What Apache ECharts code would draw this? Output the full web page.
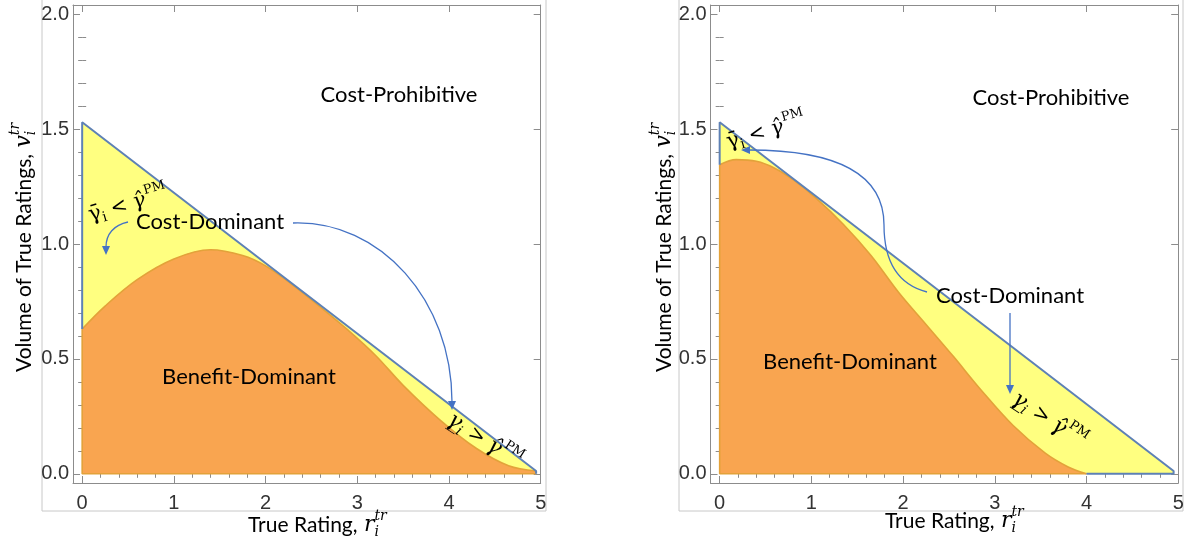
<!DOCTYPE html>
<html>
<head>
<meta charset="utf-8">
<script src="https://cdn.jsdelivr.net/npm/echarts@6/dist/echarts.min.js"></script>
<style>
  html, body { margin: 0; padding: 0; background: #fff; }
  #chart { width: 1193px; height: 546px; }
</style>
</head>
<body>
<div id="chart"></div>
<script>
// ---- axis ticks ----
const ratingTicks = [0, 1, 2, 3, 4, 5];
const volumeTicks = [0, 0.5, 1.0, 1.5, 2.0];

// ---- upper boundary of the feasible region (same in both panels) ----
const capRating = [0, 4.95];
const capVolume = [1.53, 0.012];

// ---- benefit-dominant boundary, left panel ----
const leftRating = [0, 0.25, 0.6, 1.0, 1.4, 1.75, 2.0, 2.3, 2.6, 2.9, 3.2, 3.5, 3.9, 4.3, 4.65, 4.95];
const leftVolume = [0.63, 0.73, 0.845, 0.935, 0.975, 0.95, 0.905, 0.82, 0.725, 0.625, 0.515, 0.385, 0.235, 0.11, 0.035, 0.012];

// ---- benefit-dominant boundary, right panel ----
const rightRating = [0, 0.18, 0.4, 0.6, 0.8, 1.05, 1.35, 1.65, 1.95, 2.25, 2.55, 2.85, 3.2, 3.55, 3.8, 4.0];
const rightVolume = [1.345, 1.367, 1.36, 1.33, 1.28, 1.2, 1.085, 0.95, 0.79, 0.65, 0.51, 0.365, 0.21, 0.09, 0.03, 0];

// ---- styling ----
const YELLOW = '#ffff80';
const ORANGE = '#f9a550';
const ORANGE_EDGE = '#e3a23a';
const BLUE = '#5e81b5';
const ARROW = '#4472c4';
const FRAME = '#8c8c8c';
const BOX = '#c8c8c8';
const TEXT_FONT = 'Lato';
const MATH_FONT = 'DejaVu Serif';
const TICK_FONT = 'Liberation Sans';

const X_MIN = -0.1, X_MAX = 5.0;
const Y_MIN = -0.04, Y_MAX = 2.04;

const zip = (a, b) => a.map((v, i) => [v, b[i]]);
const minorBetween = (ticks, n) => {
  const out = [];
  for (let k = 0; k < ticks.length - 1; k++) {
    const step = (ticks[k + 1] - ticks[k]) / n;
    for (let j = 1; j < n; j++) out.push(+(ticks[k] + j * step).toFixed(4));
  }
  return out;
};
const ratingMinor = minorBetween(ratingTicks, 5);
const volumeMinor = minorBetween(volumeTicks, 5);

const grids = [
  { left: 73, top: 5, width: 467.7, height: 478 },
  { left: 710.5, top: 5, width: 467.7, height: 478 }
];

const xAxes = [], yAxes = [];
function frameAxes(gi) {
  const tickStyle = { color: FRAME, width: 1 };
  const frameLine = { show: true, onZero: false, lineStyle: { color: FRAME, width: 1 } };
  const xBase = { gridIndex: gi, type: 'value', min: X_MIN, max: X_MAX, splitLine: { show: false }, axisLine: { show: false } };
  const yBase = { gridIndex: gi, type: 'value', min: Y_MIN, max: Y_MAX, splitLine: { show: false }, axisLine: { show: false } };
  const first = xAxes.length;
  xAxes.push(
    Object.assign({}, xBase, { position: 'bottom', axisLine: frameLine,
      axisTick: { inside: true, length: 7, customValues: ratingTicks, lineStyle: tickStyle },
      axisLabel: { customValues: ratingTicks, fontSize: 20, fontFamily: TICK_FONT, color: '#333', margin: 10 } }),
    Object.assign({}, xBase, { position: 'bottom',
      axisTick: { inside: true, length: 4, customValues: ratingMinor, lineStyle: tickStyle }, axisLabel: { show: false } }),
    Object.assign({}, xBase, { position: 'top', axisLine: frameLine,
      axisTick: { inside: true, length: 7, customValues: ratingTicks, lineStyle: tickStyle }, axisLabel: { show: false } }),
    Object.assign({}, xBase, { position: 'top',
      axisTick: { inside: true, length: 4, customValues: ratingMinor, lineStyle: tickStyle }, axisLabel: { show: false } })
  );
  yAxes.push(
    Object.assign({}, yBase, { position: 'left', axisLine: frameLine,
      axisTick: { inside: true, length: 7, customValues: volumeTicks, lineStyle: tickStyle },
      axisLabel: { customValues: volumeTicks, fontSize: 20, fontFamily: TICK_FONT, color: '#333', margin: 4,
        formatter: v => Number(v).toFixed(1) } }),
    Object.assign({}, yBase, { position: 'left',
      axisTick: { inside: true, length: 4, customValues: volumeMinor, lineStyle: tickStyle }, axisLabel: { show: false } }),
    Object.assign({}, yBase, { position: 'right', axisLine: frameLine,
      axisTick: { inside: true, length: 7, customValues: volumeTicks, lineStyle: tickStyle }, axisLabel: { show: false } }),
    Object.assign({}, yBase, { position: 'right',
      axisTick: { inside: true, length: 4, customValues: volumeMinor, lineStyle: tickStyle }, axisLabel: { show: false } })
  );
  return first;
}

function panelSeries(axisIndex, rating, volume) {
  const common = { type: 'line', xAxisIndex: axisIndex, yAxisIndex: axisIndex, symbol: 'none', silent: true, animation: false };
  const v0 = volume[0];
  const rEnd = rating[rating.length - 1];
  return [
    Object.assign({}, common, { z: 1, data: zip(capRating, capVolume),
      lineStyle: { width: 0 }, areaStyle: { color: YELLOW, opacity: 1 } }),
    Object.assign({}, common, { z: 2, data: zip(rating, volume), smooth: 0.35,
      lineStyle: { color: ORANGE_EDGE, width: 1.6 }, areaStyle: { color: ORANGE, opacity: 1 } }),
    Object.assign({}, common, { z: 2, data: [[0, v0], [0, 0], [rEnd, 0]],
      lineStyle: { color: ORANGE_EDGE, width: 1.6 } }),
    Object.assign({}, common, { z: 3,
      data: [[0, v0], [capRating[0], capVolume[0]], [capRating[1], capVolume[1]], [capRating[1], 0], [rEnd, 0]],
      lineStyle: { color: BLUE, width: 2 } })
  ];
}

const leftAxis = frameAxes(0);
const rightAxis = frameAxes(1);
const series = [].concat(
  panelSeries(leftAxis, leftRating, leftVolume),
  panelSeries(rightAxis, rightRating, rightVolume)
);

// ---- text helpers ----
const measureCtx = document.createElement('canvas').getContext('2d');
function textStyle(t, size, family, italic, color, align, valign) {
  return { text: t, fontSize: size, fontFamily: family, fontStyle: italic ? 'italic' : 'normal',
    fill: color || '#000', align: align || 'left', textAlign: align || 'left',
    verticalAlign: valign || 'middle', textVerticalAlign: valign || 'middle' };
}
// lays a row of text runs (with sub/superscripts) along a rotated baseline
function mathRow(x, y, angleDeg, parts) {
  let cx = 0;
  const children = [];
  parts.forEach(p => {
    cx += p.gap || 0;
    const fam = p.family || MATH_FONT;
    measureCtx.font = (p.italic ? 'italic ' : '') + p.size + 'px "' + fam + '"';
    children.push({ type: 'text', z: 20, x: cx, y: p.dy || 0, style: textStyle(p.t, p.size, fam, p.italic) });
    if (!p.stay) cx += measureCtx.measureText(p.t).width;
  });
  return { type: 'group', x: x, y: y, rotation: angleDeg * Math.PI / 180, z: 20, children: children };
}
function label(t, x, y, size) {
  return { type: 'text', x: x, y: y, z: 20, style: textStyle(t, size || 22, TEXT_FONT, false, '#000', 'center', 'middle') };
}
function arrowHead(tx, ty, dx, dy) {
  const n = Math.hypot(dx, dy), ux = dx / n, uy = dy / n;
  const len = 9, half = 4;
  const bx = tx - ux * len, by = ty - uy * len;
  return { type: 'polygon', z: 20, shape: { points: [[tx, ty], [bx - uy * half, by + ux * half], [bx + uy * half, by - ux * half]] },
    style: { fill: ARROW } };
}
const arrowLine = { stroke: ARROW, lineWidth: 1.3, fill: null };
function bez(x1, y1, c1x, c1y, c2x, c2y, x2, y2) {
  return { type: 'bezierCurve', z: 20,
    shape: { x1: x1, y1: y1, cpx1: c1x, cpy1: c1y, cpx2: c2x, cpy2: c2y, x2: x2, y2: y2 }, style: arrowLine };
}
function seg(x1, y1, x2, y2) {
  return { type: 'line', z: 20, shape: { x1: x1, y1: y1, x2: x2, y2: y2 }, style: arrowLine };
}

const gammaLow = [
  { t: 'γ\u0304', size: 21 },
  { t: 'i', size: 14, dy: 6 },
  { t: '<', size: 20, gap: 6 },
  { t: 'γ\u0302', size: 21, italic: true, gap: 6 },
  { t: 'PM', size: 13, dy: -9, gap: 1 }
];
const gammaHigh = [
  { t: 'γ\u0332', size: 22, italic: true },
  { t: 'i', size: 14, italic: true, dy: 6 },
  { t: '>', size: 20, gap: 7 },
  { t: 'γ\u0302', size: 22, italic: true, gap: 6 },
  { t: 'PM', size: 13, dy: -9, gap: 1 }
];
function xTitle(x, y) {
  return mathRow(x, y, 0, [
    { t: 'True Rating, ', size: 21, family: TEXT_FONT },
    { t: 'r', size: 22, italic: true, gap: 1 },
    { t: 'i', size: 14, italic: true, dy: 7, stay: true },
    { t: 'tr', size: 14, italic: true, dy: -9 }
  ]);
}
function yTitle(x, y) {
  return mathRow(x, y, 90, [
    { t: 'Volume of True Ratings, ', size: 21, family: TEXT_FONT },
    { t: 'v', size: 22, italic: true, gap: 1 },
    { t: 'i', size: 14, italic: true, dy: 7, stay: true },
    { t: 'tr', size: 14, italic: true, dy: -9 }
  ]);
}

const graphics = [
  // panel outlines
  { type: 'polyline', z: 0, shape: { points: [[42, 0], [42, 511], [546, 511], [546, 0]] }, style: { stroke: BOX, lineWidth: 1, fill: null } },
  { type: 'polyline', z: 0, shape: { points: [[679, 0], [679, 511], [1183, 511], [1183, 0]] }, style: { stroke: BOX, lineWidth: 1, fill: null } },

  // axis titles
  yTitle(24, 372), xTitle(248, 525),
  yTitle(664, 372), xTitle(885, 521),

  // left panel regions
  label('Cost-Prohibitive', 399, 95),
  label('Cost-Dominant', 210, 222),
  label('Benefit-Dominant', 249, 377),
  mathRow(89, 216, 16, gammaLow),
  mathRow(449, 418, -33, gammaHigh),
  bez(128, 222, 114, 225, 106, 234, 106, 247), arrowHead(106, 255, 0, 1),
  bez(293, 223, 380, 220, 452, 300, 452, 402), arrowHead(452, 410, 0, 1),

  // right panel regions
  label('Cost-Prohibitive', 1051, 98),
  label('Cost-Dominant', 1010, 296),
  label('Benefit-Dominant', 850, 362),
  mathRow(727, 143, 16, gammaLow),
  mathRow(1014, 397, -34, gammaHigh),
  bez(927, 292, 900, 285, 884, 265, 884, 225),
  bez(884, 225, 884, 170, 830, 150, 749, 150), arrowHead(741, 150, -1, 0),
  seg(1010, 313, 1010, 386), arrowHead(1010, 394, 0, 1)
];

const chart = echarts.init(document.getElementById('chart'), null, { renderer: 'canvas' });
chart.setOption({
  animation: false,
  backgroundColor: '#fff',
  grid: grids,
  xAxis: xAxes,
  yAxis: yAxes,
  series: series,
  graphic: { elements: graphics }
});
</script>
</body>
</html>
